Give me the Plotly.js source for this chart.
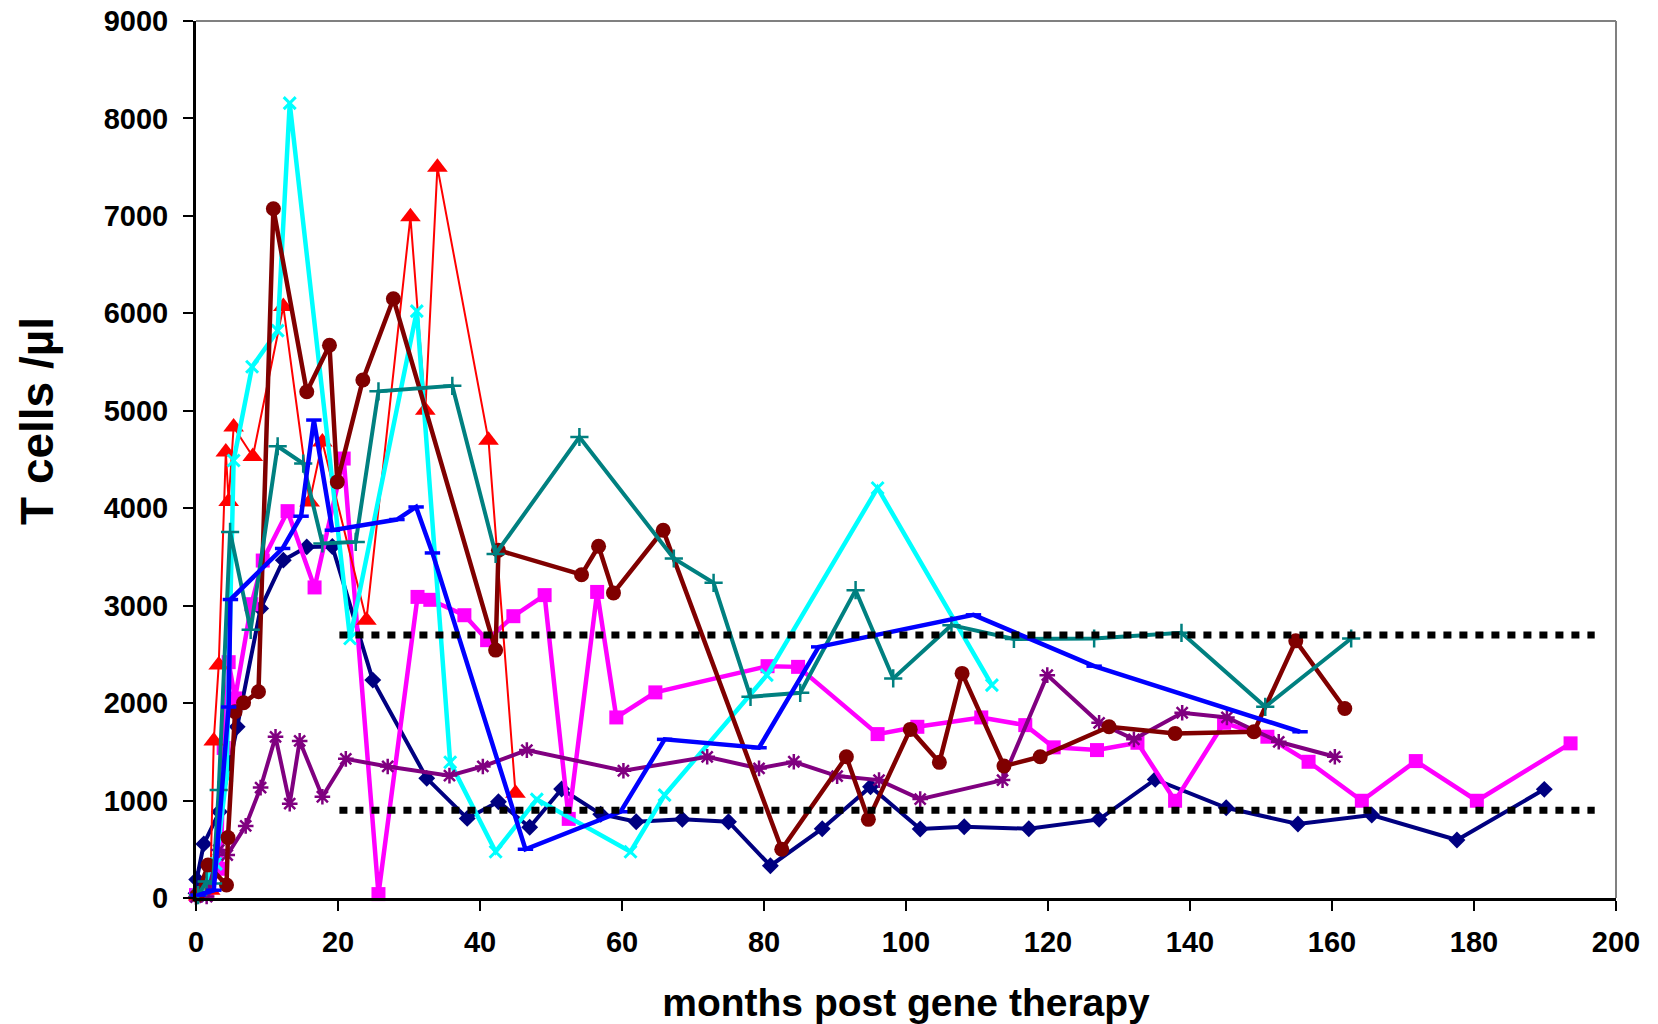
<!DOCTYPE html>
<html>
<head>
<meta charset="utf-8">
<script src="https://cdn.plot.ly/plotly-3.0.1.min.js"></script>
<style>
  html, body { margin: 0; padding: 0; background: #ffffff; }
  #chart { width: 1658px; height: 1024px; }
</style>
</head>
<body>
<div id="chart"></div>
<script>
// ---- Data (months post gene therapy, T cells / µl) ----
const navyX = [0, 0.1, 1.1, 3.3, 5.8, 9.1, 12.3, 15.6, 19.2, 24.9, 32.5, 38.2, 42.6, 47.0, 51.5, 57.0, 62.0, 68.5, 75.0, 80.9, 88.2, 95.0, 102.0, 108.2, 117.3, 127.2, 135.1, 145.1, 155.2, 165.6, 177.6, 189.9];
const navyY = [50, 190, 555, 885, 1757, 2971, 3467, 3603, 3607, 2236, 1228, 817, 988, 726, 1118, 860, 783, 807, 783, 331, 711, 1142, 708, 731, 711, 807, 1217, 926, 759, 851, 595, 1115];

const magentaX = [0, 1.5, 3.5, 3.9, 4.6, 5.5, 7.8, 9.4, 12.9, 16.7, 20.8, 25.7, 31.2, 33.0, 37.8, 41.0, 44.7, 49.1, 52.5, 56.5, 59.2, 64.7, 80.5, 84.8, 96.0, 101.6, 110.6, 116.8, 120.8, 126.9, 132.6, 137.9, 144.8, 150.9, 156.7, 164.2, 171.8, 180.4, 193.6];
const magentaY = [30, 60, 300, 1540, 2420, 2048, 3015, 3463, 3970, 3187, 4510, 40, 3090, 3060, 2902, 2646, 2892, 3108, 812, 3141, 1853, 2110, 2379, 2372, 1682, 1757, 1853, 1774, 1546, 1518, 1593, 998, 1798, 1655, 1398, 998, 1405, 998, 1587];

const redX = [0.3, 2.0, 2.5, 3.2, 4.2, 4.6, 5.3, 8.0, 12.3, 16.0, 17.8, 24.0, 30.2, 32.3, 34.0, 41.2, 45.0];
const redY = [20, 80, 1612, 2390, 4577, 4070, 4834, 4530, 6070, 4065, 4680, 2851, 6990, 5005, 7500, 4697, 1074];

const cyanX = [0.3, 2.8, 4.3, 5.3, 7.9, 11.5, 13.2, 21.7, 31.1, 35.8, 42.2, 48.0, 61.2, 66.0, 80.4, 96.0, 112.1];
const cyanY = [30, 350, 1251, 4490, 5452, 5822, 8157, 2663, 6023, 1393, 475, 1012, 475, 1056, 2287, 4208, 2185];

const purpleX = [0, 1.5, 3.2, 4.4, 7.0, 9.1, 11.2, 13.2, 14.6, 17.8, 21.1, 27.0, 35.7, 40.4, 46.6, 60.2, 72.0, 79.3, 84.2, 90.3, 96.2, 102.0, 113.6, 119.9, 127.2, 132.1, 138.9, 145.2, 152.5, 160.4];
const purpleY = [10, 15, 492, 441, 740, 1133, 1654, 968, 1612, 1039, 1428, 1350, 1256, 1350, 1518, 1306, 1449, 1330, 1398, 1251, 1210, 1015, 1210, 2287, 1798, 1628, 1901, 1853, 1603, 1449];

const maroonX = [0.2, 1.7, 4.3, 4.5, 5.5, 6.7, 8.8, 10.9, 15.6, 18.8, 19.9, 23.5, 27.8, 42.2, 42.6, 54.3, 56.7, 58.8, 65.8, 82.5, 91.6, 94.7, 100.6, 104.7, 107.9, 113.8, 118.9, 128.6, 137.9, 149.0, 154.9, 161.8];
const maroonY = [30, 338, 133, 620, 1911, 2003, 2116, 7074, 5196, 5672, 4270, 5316, 6150, 2544, 3569, 3318, 3610, 3131, 3774, 500, 1449, 807, 1730, 1392, 2305, 1354, 1449, 1757, 1689, 1706, 2639, 1945];

const tealX = [0.3, 1.5, 2.4, 3.2, 4.8, 7.7, 11.5, 15.1, 17.8, 22.5, 25.7, 36.1, 42.2, 54.0, 67.3, 72.9, 78.1, 85.1, 92.9, 98.2, 106.4, 115.2, 126.5, 138.8, 150.6, 162.7];
const tealY = [30, 170, 150, 1108, 3757, 2752, 4636, 4458, 3638, 3654, 5200, 5256, 3530, 4731, 3484, 3234, 2065, 2106, 3159, 2253, 2800, 2658, 2663, 2721, 1962, 2663];

const blueX = [0.3, 2.5, 4.6, 4.85, 12.2, 14.8, 16.6, 19.2, 28.3, 31.0, 33.3, 46.4, 59.8, 66.0, 79.3, 87.7, 109.5, 126.5, 155.5];
const blueY = [30, 80, 1960, 3063, 3587, 3918, 4905, 3774, 3884, 4013, 3541, 500, 885, 1628, 1542, 2577, 2906, 2379, 1706];

// reference range lines
const refX = [20.2, 197];
const refUpper = [2700, 2700];
const refLower = [900, 900];

const xTicks = [0, 20, 40, 60, 80, 100, 120, 140, 160, 180, 200];
const yTicks = [0, 1000, 2000, 3000, 4000, 5000, 6000, 7000, 8000, 9000];

const FONT = 'Liberation Sans, Arial, sans-serif';

function series(x, y, color, lw, symbol, msize, open) {
  const marker = { symbol: symbol, size: msize, color: color };
  if (open) marker.line = { color: color, width: open };
  return {
    type: 'scatter', mode: 'lines+markers', x: x, y: y,
    line: { color: color, width: lw },
    marker: marker, hoverinfo: 'skip', cliponaxis: false
  };
}

const data = [
  series(navyX, navyY, '#000080', 4, 'diamond', 13, 0),
  series(magentaX, magentaY, '#FF00FF', 4.5, 'square', 14, 0),
  series(redX, redY, '#FF0000', 2, 'triangle-up', 18, 0),
  series(cyanX, cyanY, '#00FFFF', 4.5, 'x-thin', 12, 3),
  series(purpleX, purpleY, '#800080', 4, 'asterisk', 13, 2.5),
  series(maroonX, maroonY, '#800000', 4.5, 'circle', 15, 0),
  series(tealX, tealY, '#008080', 4, 'cross-thin', 13, 2.5),
  series(blueX, blueY, '#0000FF', 4.5, 'line-ew', 11, 3.5),
  { type: 'scatter', mode: 'lines', x: refX, y: refUpper,
    line: { color: '#000000', width: 7, dash: '8px,8px' }, hoverinfo: 'skip' },
  { type: 'scatter', mode: 'lines', x: refX, y: refLower,
    line: { color: '#000000', width: 7, dash: '8px,8px' }, hoverinfo: 'skip' }
];

const layout = {
  width: 1658, height: 1024,
  margin: { l: 196, r: 42, t: 21, b: 126 },
  paper_bgcolor: '#ffffff', plot_bgcolor: '#ffffff',
  showlegend: false,
  font: { family: FONT, color: '#000000' },
  xaxis: {
    range: [0, 200], tickvals: xTicks, ticktext: xTicks.map(String),
    showgrid: false, zeroline: false,
    showline: true, linecolor: '#000000', linewidth: 3,
    ticks: 'outside', ticklen: 10, tickwidth: 2, tickcolor: '#000000',
    ticklabelstandoff: 6,
    tickfont: { family: FONT, size: 29, weight: 'bold', color: '#000000' },
    title: { text: 'months post gene therapy', standoff: 33,
             font: { family: FONT, size: 39, weight: 'bold', color: '#000000' } }
  },
  yaxis: {
    range: [0, 9000], tickvals: yTicks, ticktext: yTicks.map(String),
    showgrid: false, zeroline: false,
    showline: true, linecolor: '#000000', linewidth: 3,
    ticks: 'outside', ticklen: 10, tickwidth: 2, tickcolor: '#000000',
    ticklabelstandoff: 9,
    tickfont: { family: FONT, size: 29, weight: 'bold', color: '#000000' }
  },
  annotations: [
    { text: 'T cells /µl', xref: 'paper', yref: 'paper',
      x: (37 - 196) / 1420, y: (898 - 421) / 877,
      xanchor: 'center', yanchor: 'middle', textangle: -90, showarrow: false,
      font: { family: FONT, size: 46, weight: 'bold', color: '#000000' } }
  ],
  shapes: [
    { type: 'line', xref: 'paper', yref: 'paper', x0: 0, x1: 1, y0: 1, y1: 1,
      line: { color: '#808080', width: 2 }, layer: 'below' },
    { type: 'line', xref: 'paper', yref: 'paper', x0: 1, x1: 1, y0: 0, y1: 1,
      line: { color: '#808080', width: 2 }, layer: 'below' }
  ]
};

Plotly.newPlot('chart', data, layout, { staticPlot: true, displayModeBar: false });
</script>
</body>
</html>
